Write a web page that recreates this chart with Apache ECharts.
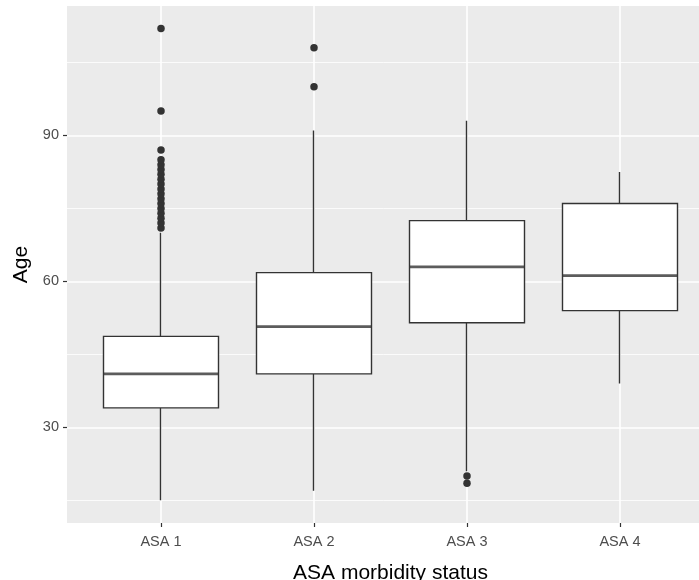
<!DOCTYPE html>
<html>
<head>
<meta charset="utf-8">
<style>
  html, body { margin: 0; padding: 0; background: #fff; }
  #chart { width: 699px; height: 580px; }
</style>
<script src="https://cdn.jsdelivr.net/npm/echarts@6/dist/echarts.min.js"></script>
</head>
<body>
<div id="chart"></div>
<script>
// ASA classes on the x axis
const categories = ['ASA 1', 'ASA 2', 'ASA 3', 'ASA 4'];
// five-number summaries per class
const lowerWhisker = [15, 17, 21, 39];
const q1 = [34, 41, 51.5, 54];
const median = [41, 50.7, 63, 61.2];
const q3 = [48.7, 61.8, 72.5, 76];
const upperWhisker = [70, 91, 93, 82.5];
// outlying ages per class
const outliers1 = [71, 72, 73, 74, 75, 76, 77, 78, 79, 80, 81, 82, 83, 84, 85, 87, 95, 112];
const outliers2 = [100, 108];
const outliers3 = [20, 18.5];
const outliers4 = [];
// y axis ticks
const majorTicks = [30, 60, 90];
const minorTicks = [15, 45, 75, 105];

const yMin = 10.35, yMax = 116.6;

// boxes + whiskers without end caps: [open, close, lowest, highest] = [Q1, Q3, min, max]
const boxData = categories.map((c, i) => [q1[i], q3[i], lowerWhisker[i], upperWhisker[i]]);
const medianData = categories.map((c, i) => [i, median[i]]);
const outlierData = [];
[outliers1, outliers2, outliers3, outliers4].forEach((arr, i) => arr.forEach(v => outlierData.push([i, v])));

const chart = echarts.init(document.getElementById('chart'));
const font = '"Liberation Sans", Arial, sans-serif';

chart.setOption({
  animation: false,
  backgroundColor: '#fff',
  grid: [
    // grey panel (extends past the right edge of the canvas)
    { left: 67, top: 6, width: 645, height: 517, show: true, backgroundColor: '#EBEBEB', borderWidth: 0, outerBoundsMode: 'none', containLabel: false },
    // plotting area for the boxes, with the same vertical extent
    { left: 84.5, top: 6, width: 612, height: 517, outerBoundsMode: 'none', containLabel: false }
  ],
  xAxis: [
    {
      gridIndex: 0, type: 'value', min: 0.386, max: 4.6,
      axisLine: { show: false },
      axisTick: { show: false, customValues: [1, 2, 3, 4] },
      axisLabel: { show: false },
      splitLine: { show: true, lineStyle: { color: '#ffffff', width: 1.6 } }
    },
    {
      gridIndex: 1, type: 'category', data: categories,
      axisLine: { show: false },
      axisTick: { show: true, alignWithLabel: true, length: 4, lineStyle: { color: '#333333', width: 1.2 } },
      axisLabel: { color: '#4D4D4D', fontSize: 14.5, fontFamily: font, margin: 11 },
      splitLine: { show: false },
      name: 'ASA morbidity status', nameLocation: 'middle', nameGap: 40,
      nameTextStyle: { color: '#000000', fontSize: 21, fontFamily: font }
    }
  ],
  yAxis: [
    {
      gridIndex: 0, type: 'value', min: yMin, max: yMax,
      axisLine: { show: false },
      axisTick: { show: true, length: 4, customValues: majorTicks, lineStyle: { color: '#333333', width: 1.2 } },
      axisLabel: { color: '#4D4D4D', fontSize: 14.5, fontFamily: font, margin: 8, customValues: majorTicks },
      splitLine: { show: true, lineStyle: { color: '#ffffff', width: 1.6 } },
      name: 'Age', nameLocation: 'middle', nameGap: 34, nameRotate: 90,
      nameTextStyle: { color: '#000000', fontSize: 21, fontFamily: font }
    },
    {
      gridIndex: 0, type: 'value', min: yMin, max: yMax,
      axisLine: { show: false },
      axisTick: { show: false, customValues: minorTicks },
      axisLabel: { show: false },
      splitLine: { show: true, lineStyle: { color: '#ffffff', width: 0.8 } }
    },
    {
      gridIndex: 1, type: 'value', min: yMin, max: yMax,
      axisLine: { show: false }, axisTick: { show: false }, axisLabel: { show: false },
      splitLine: { show: false }
    }
  ],
  series: [
    {
      type: 'candlestick', xAxisIndex: 1, yAxisIndex: 2,
      data: boxData,
      barWidth: 115,
      itemStyle: { color: '#ffffff', color0: '#ffffff', borderColor: '#333333', borderColor0: '#333333', borderWidth: 1.4 },
      z: 2
    },
    {
      // thicker median bars
      type: 'scatter', xAxisIndex: 1, yAxisIndex: 2,
      data: medianData,
      symbol: 'rect', symbolSize: [116, 2.8],
      itemStyle: { color: '#333333' },
      z: 3
    },
    {
      type: 'scatter', xAxisIndex: 1, yAxisIndex: 2,
      data: outlierData,
      symbol: 'circle', symbolSize: 7.5,
      itemStyle: { color: '#333333', opacity: 1 },
      z: 4
    }
  ]
});
</script>
</body>
</html>
